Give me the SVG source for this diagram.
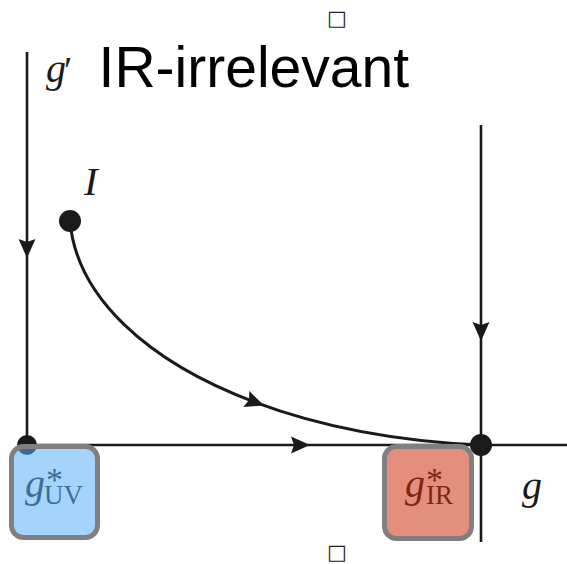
<svg xmlns="http://www.w3.org/2000/svg" width="567" height="564" viewBox="0 0 567 564">
<defs>
<style>
.ax{fill:none;stroke:#1a1a1a;stroke-width:2.6;marker-mid:url(#arr)}
.dot{fill:#1a1a1a}
.m{font-family:"Liberation Serif","DejaVu Serif",serif;fill:#1a1a1a}
.it{font-style:italic}
.up{font-style:normal}
.box{stroke:#808080;stroke-width:5}
.tofu{font-family:"DejaVu Sans",sans-serif;font-size:21px;fill:#222;text-anchor:middle}
</style>
<marker id="arr" markerUnits="userSpaceOnUse" markerWidth="26" markerHeight="26" viewBox="-13 -13 26 26" refX="0" refY="0" orient="auto">
<path d="M10 0 L-9 -8.5 L-6 0 L-9 8.5 Z" fill="#1a1a1a"/>
</marker>
</defs>
<rect width="567" height="564" fill="#ffffff"/>
<text class="tofu" x="337" y="25">□</text>
<text x="98.6" y="87" font-family="Liberation Sans, Arial, sans-serif" font-size="57" fill="#000">IR-irrelevant</text>
<text class="m it" x="46" y="82" font-size="40">g<tspan class="up" x="64" y="83" font-size="38">′</tspan></text>
<text class="m it" x="84" y="195" font-size="41">I</text>
<text class="m it" x="522" y="499" font-size="40">g</text>
<g id="connectors">
<path class="ax" d="M27 52 L27 248 L27 445"/>
<path class="ax" d="M27 445 L300 445 L567 445"/>
<path class="ax" d="M481 125 L481 331 L481 542"/>
<path class="ax" style="stroke-width:3" d="M70 221 C76.3 296 146.1 361.4 254.7 402.1 C318.4 426 395.5 441.3 481 445"/>
</g>
<g id="I"><circle class="dot" cx="70" cy="221" r="11"/></g>
<g id="gUV">
<circle class="dot" cx="27" cy="445" r="10"/>
<text class="m it" x="25" y="497" font-size="40">g<tspan class="up" x="46" y="491" font-size="34">*</tspan><tspan class="up" x="44" y="504" font-size="27">UV</tspan></text>
<rect class="box" x="11.5" y="446.5" width="86" height="91" rx="12" fill="#5aaff8" fill-opacity="0.55"/>
</g>
<g id="gIR">
<circle class="dot" cx="481" cy="445" r="11"/>
<text class="m it" x="405" y="497" font-size="40">g<tspan class="up" x="426" y="491" font-size="34">*</tspan><tspan class="up" x="426" y="504" font-size="27">IR</tspan></text>
<rect class="box" x="384.5" y="446.5" width="87" height="92" rx="12" fill="#cd3114" fill-opacity="0.55"/>
</g>
<text class="tofu" x="337" y="559">□</text>
</svg>
